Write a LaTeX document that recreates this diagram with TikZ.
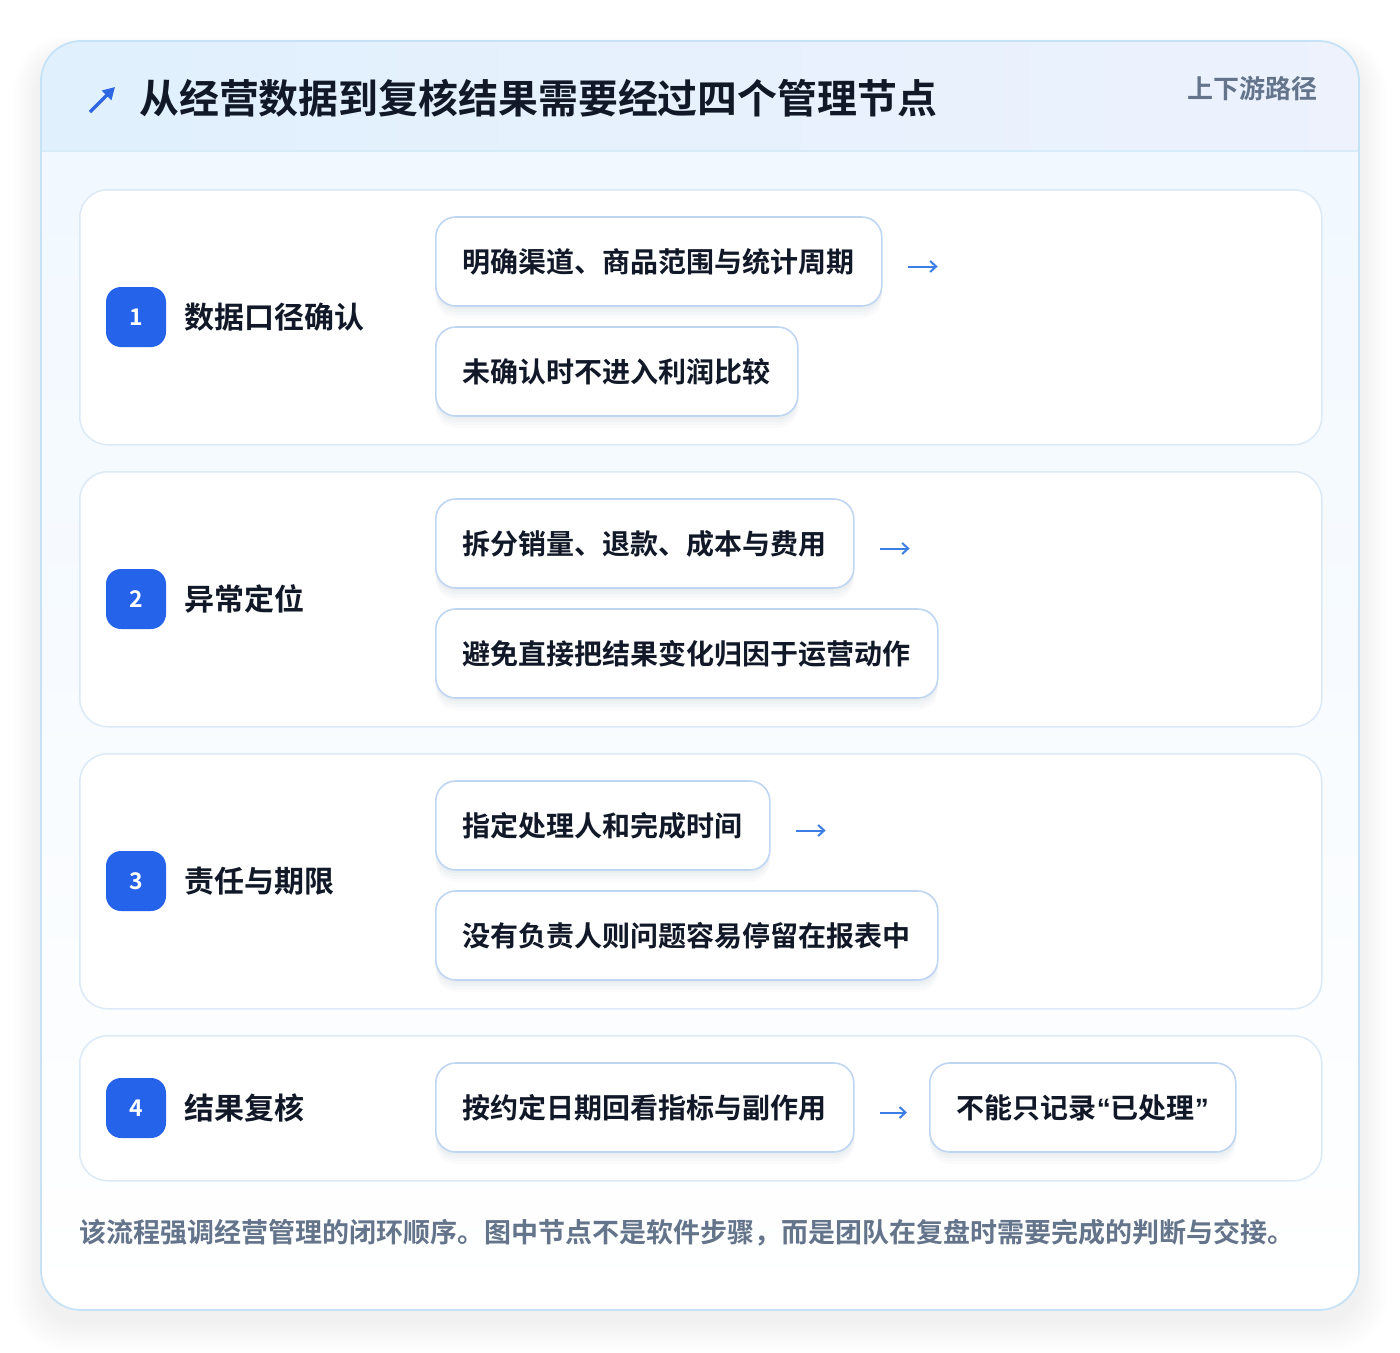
\documentclass[tikz,border=0pt]{standalone}
\usepackage{fontspec}
\setmainfont{Noto Sans CJK SC}[BoldFont={Noto Sans CJK SC Bold}]
\newfontfamily\latinq{Liberation Sans}
\usetikzlibrary{arrows.meta,positioning}
\definecolor{cardline}{HTML}{C6E2F6}
\definecolor{rowline}{HTML}{DCEAF8}
\definecolor{boxline}{HTML}{BFD6F3}
\definecolor{badge}{HTML}{2563EB}
\definecolor{ink}{HTML}{111827}
\definecolor{muted}{HTML}{64748B}
\definecolor{arrowc}{HTML}{3D7EE6}
\definecolor{titlearrow}{HTML}{2F66E3}
\definecolor{headL}{HTML}{E0F0FD}
\definecolor{headR}{HTML}{EDF2FD}
\definecolor{bodytop}{HTML}{F1F8FF}
\definecolor{shadowc}{HTML}{1E3A5F}
\tikzset{
  rowbox/.style={draw=rowline,line width=1.5pt,fill=white,rounded corners=28pt,minimum width=1242pt,anchor=north west,inner sep=0pt},
  badgebox/.style={fill=badge,rounded corners=15pt,minimum width=60pt,minimum height=60pt,inner sep=0pt,text=white,font=\bfseries\fontsize{23}{23}\selectfont},
  steplabel/.style={anchor=west,inner sep=0pt,text=ink,font=\bfseries\fontsize{30}{30}\selectfont},
  subbox/.style={draw=boxline,line width=1.6pt,fill=white,rounded corners=20pt,minimum height=89pt,inner xsep=27pt,anchor=west,text=ink,font=\bfseries\fontsize{28}{28}\selectfont,
    preaction={fill=shadowc,fill opacity=0.025,transform canvas={yshift=-3pt}},
    preaction={fill=shadowc,fill opacity=0.025,transform canvas={yshift=-6pt}},
    preaction={fill=shadowc,fill opacity=0.02,transform canvas={yshift=-9pt}},
    preaction={fill=shadowc,fill opacity=0.015,transform canvas={yshift=-12pt}}},
  flowarrow/.style={draw=arrowc,line width=2pt,-{Straight Barb[length=6pt,width=11pt,line width=2pt]}},
}
\begin{document}
\begin{tikzpicture}[x=1pt,y=-1pt]
\useasboundingbox (0,0) rectangle (1400,1352);
\fill[white] (0,0) rectangle (1400,1352);
% card shadow
\foreach \i in {1,...,14}{
  \fill[black,fill opacity=0.005,rounded corners={40pt+\i pt}] ({41-2*\i},{41+12-1.2*\i}) rectangle ({1359+2*\i},{1310+12+2*\i});
}
% card
\fill[white,rounded corners=40pt] (41,41) rectangle (1359,1310);
\begin{scope}
  \clip[rounded corners=40pt] (41,41) rectangle (1359,1310);
  \shade[top color=bodytop, bottom color=white] (41,151) rectangle (1359,1310);
  \shade[left color=headL,right color=headR] (41,41) rectangle (1359,151);
  \draw[cardline!70,line width=1.5pt] (41,151) -- (1359,151);
\end{scope}
\draw[cardline,line width=1.8pt,rounded corners=40pt] (41,41) rectangle (1359,1310);
% header
\coordinate (ta0) at (90,112);
\coordinate (ta1) at (115,87);
\draw[titlearrow,line width=3.4pt,-{Triangle[length=12pt,width=13pt]}] (ta0) -- (ta1);
\node[anchor=west,inner sep=0pt,text=ink,font=\bfseries\fontsize{39.9}{40}\selectfont] (title) at (139,98) {从经营数据到复核结果需要经过四个管理节点};
\node[anchor=east,inner sep=0pt,text=muted,font=\bfseries\fontsize{26}{26}\selectfont] (tag) at (1318,89) {上下游路径};
% rows
\node[rowbox,minimum height=255pt] (r1) at (79,189) {};
\node[rowbox,minimum height=255pt] (r2) at (79,471) {};
\node[rowbox,minimum height=255pt] (r3) at (79,753) {};
\node[rowbox,minimum height=145pt] (r4) at (79,1035) {};
% badges and labels
\node[badgebox] (n1) at (136,317) {1};
\node[steplabel] (l1) at (184,317) {数据口径确认};
\node[badgebox] (n2) at (136,599) {2};
\node[steplabel] (l2) at (184,599) {异常定位};
\node[badgebox] (n3) at (136,881) {3};
\node[steplabel] (l3) at (184,881) {责任与期限};
\node[badgebox] (n4) at (136,1108) {4};
\node[steplabel] (l4) at (184,1108) {结果复核};
% sub boxes
\node[subbox] (b11) at (435,261.5) {明确渠道、商品范围与统计周期};
\node[subbox] (b12) at (435,371.5) {未确认时不进入利润比较};
\node[subbox] (b21) at (435,543.5) {拆分销量、退款、成本与费用};
\node[subbox] (b22) at (435,653.5) {避免直接把结果变化归因于运营动作};
\node[subbox] (b31) at (435,825.5) {指定处理人和完成时间};
\node[subbox] (b32) at (435,935.5) {没有负责人则问题容易停留在报表中};
\node[subbox] (b41) at (435,1107.5) {按约定日期回看指标与副作用};
\node[subbox] (b42) at (929,1107.5) {不能只记录{\latinq\bfseries “}已处理{\latinq\bfseries ”}};
% arrows
\coordinate (a1) at ([xshift=55pt,yshift=-5pt]b11.east);
\coordinate (a2) at ([xshift=55pt,yshift=-5pt]b21.east);
\coordinate (a3) at ([xshift=55pt,yshift=-5pt]b31.east);
\draw[flowarrow] ([xshift=25pt,yshift=-5pt]b11.east) -- (a1);
\draw[flowarrow] ([xshift=25pt,yshift=-5pt]b21.east) -- (a2);
\draw[flowarrow] ([xshift=25pt,yshift=-5pt]b31.east) -- (a3);
\draw[flowarrow,shorten <=25pt,shorten >=22pt] ([yshift=-5pt]b41.east) -- ([yshift=-5pt]b42.west);
% footer
\node[anchor=west,inner sep=0pt,text=muted,font=\bfseries\fontsize{27}{28}\selectfont] (foot) at (79,1233) {该流程强调经营管理的闭环顺序。图中节点不是软件步骤，而是团队在复盘时需要完成的判断与交接。};
\end{tikzpicture}
\end{document}
